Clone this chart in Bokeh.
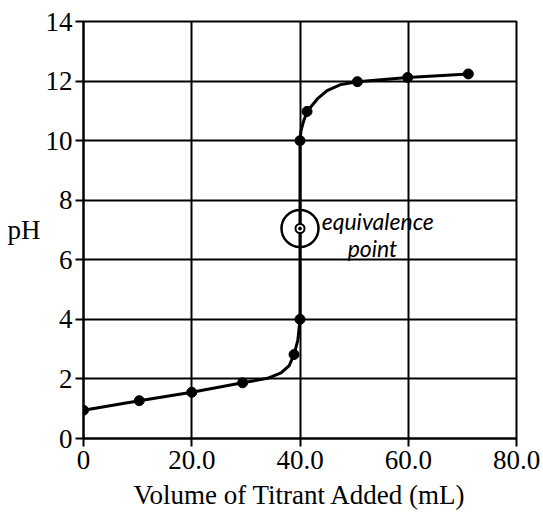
from bokeh.plotting import figure
from bokeh.models import FixedTicker
from bokeh.core.properties import value
from bokeh.embed import file_html
from bokeh.resources import INLINE

# measured points (mL, pH)
vol = [0, 10.3, 20, 29.4, 38.9, 40.0, 40.0, 41.3, 50.6, 59.9, 71.1]
ph = [0.95, 1.27, 1.55, 1.87, 2.82, 4.0, 10.0, 10.98, 11.98, 12.12, 12.24]

# hand-drawn curve
curve_vol = [0, 10.3, 20, 29.4, 34, 36.5, 38, 38.9, 39.6, 40.0, 40.0, 40.0,
             40.2, 40.7, 41.3, 43.2, 45.0, 47.5, 50.6, 59.9, 71.1]
curve_ph = [0.95, 1.27, 1.55, 1.87, 2.02, 2.2, 2.45, 2.82, 3.3, 4.0, 7.0, 10.0,
            10.35, 10.67, 10.98, 11.4, 11.68, 11.88, 11.98, 12.12, 12.24]

eq_vol = [40.0]
eq_ph = [7.05]

x_ticks = [0, 20, 40, 60, 80]
x_tick_labels = ["0", "20.0", "40.0", "60.0", "80.0"]
y_ticks = [0, 2, 4, 6, 8, 10, 12, 14]

note_x = [44.0, 48.8]
note_y = [7.3, 6.4]
note_text = ["equivalence", "point"]

SERIF = "Liberation Serif"

p = figure(width=543, height=512, x_range=(0, 80), y_range=(0, 14),
           output_backend="svg", toolbar_location=None,
           min_border_left=83, min_border_right=27, min_border_top=21,
           min_border_bottom=74)
p.background_fill_color = "white"
p.border_fill_color = "white"
p.outline_line_color = "black"
p.outline_line_width = 2

p.xaxis.ticker = FixedTicker(ticks=x_ticks)
p.xaxis.major_label_overrides = {t: l for t, l in zip(x_ticks, x_tick_labels)}
p.yaxis.ticker = FixedTicker(ticks=y_ticks)

for ax in (p.xaxis, p.yaxis):
    ax.axis_line_color = "black"
    ax.axis_line_width = 2
    ax.major_tick_line_color = "black"
    ax.major_tick_line_width = 2
    ax.major_tick_in = 0
    ax.major_tick_out = 8
    ax.minor_tick_line_color = None
    ax.major_label_text_font = SERIF
    ax.major_label_text_font_size = "27px"
    ax.major_label_text_color = "black"
    ax.axis_label_text_font = SERIF
    ax.axis_label_text_font_size = "27px"
    ax.axis_label_text_font_style = "normal"
    ax.axis_label_text_color = "black"

p.yaxis.major_label_standoff = 3
p.xaxis.major_label_standoff = 4
p.xaxis.axis_label = "Volume of Titrant Added (mL)"
p.xaxis.axis_label_standoff = 8
p.yaxis.axis_label = "pH"
p.yaxis.axis_label_orientation = "horizontal"
p.yaxis.axis_label_standoff = 2

p.xgrid.ticker = FixedTicker(ticks=x_ticks)
p.ygrid.ticker = FixedTicker(ticks=y_ticks)
p.grid.grid_line_color = "black"
p.grid.grid_line_width = 2
p.grid.grid_line_alpha = 1

p.line(curve_vol, curve_ph, line_color="black", line_width=3)
p.scatter(vol, ph, size=10, fill_color="black", line_color="black")

# equivalence point: small ring with dot, plus hand-drawn circle
p.scatter(eq_vol, eq_ph, size=9, fill_color="white", line_color="black", line_width=2)
p.scatter(eq_vol, eq_ph, size=3, fill_color="black", line_color="black")
p.scatter(eq_vol, eq_ph, size=37, fill_color=None, line_color="black", line_width=2.5)

p.text(note_x, note_y, text=note_text, text_font=value("Lato"),
       text_font_style="italic", text_font_size="23px", text_color="black",
       text_baseline="middle", text_align="left")

open("out.html", "w").write(file_html(p, INLINE))
